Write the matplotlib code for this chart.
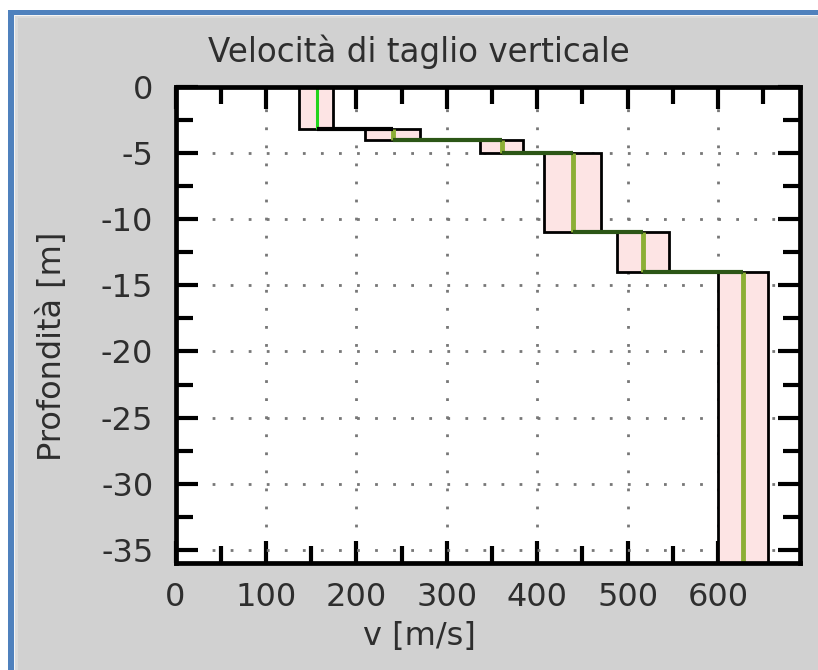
"""
    Shear-wave velocity profile (Vs vs depth) drawn as layered boxes.
"""

# ------ Environment Setup ------ #
import numpy as np                          # array manipulation
import matplotlib.pyplot as plt             # plotting
from matplotlib.patches import Rectangle    # window frame
from matplotlib.ticker import MultipleLocator

plt.rcParams["axes.unicode_minus"] = False


# ------ Data ------ #
# layer limits [m]
depth_top = [0.0, -3.2, -4.0, -5.0, -11.0, -14.0]
depth_bot = [-3.2, -4.0, -5.0, -11.0, -14.0, -36.0]

# velocity range and mean per layer [m/s]
v_min = [137, 210, 337, 408, 488, 600]
v_max = [174, 270, 384, 471, 546, 655]
v_mean = [157, 241, 361, 440, 517, 628]

x_ticks = [0, 100, 200, 300, 400, 500, 600]
y_ticks = [0, -5, -10, -15, -20, -25, -30, -35]

TITLE = "Velocità di taglio verticale"
XLABEL = "v [m/s]"
YLABEL = "Profondità [m]"


# ------ Figure ------ #
W, H = 818, 670
fig = plt.figure(figsize=(W / 100, H / 100), dpi=100, facecolor="white")


def px_rect(x0, y0, x1, y1, color):
    # rectangle given in pixel coordinates from the top-left corner
    fig.patches.append(Rectangle((x0 / W, 1 - y1 / H), (x1 - x0) / W, (y1 - y0) / H,
                                 transform=fig.transFigure, facecolor=color,
                                 edgecolor="none", zorder=-10))


# window frame
px_rect(8, 10, W, H, "#4f81bd")
px_rect(14, 15, W, H, "#f4f4f4")
px_rect(15, 16, W, H, "#dadada")
px_rect(18, 18, W, H, "#d1d1d1")

ax = fig.add_axes([175.5 / W, 1 - 563 / H, (799.5 - 175.5) / W, (563 - 87) / H])
ax.set_zorder(1)
ax.set_facecolor("white")

# layer boxes
v_min = np.array(v_min)
v_max = np.array(v_max)
top = np.array(depth_top)
bot = np.array(depth_bot)
ax.barh((top + bot) / 2, v_max - v_min, height=top - bot, left=v_min,
        color="#fde4e4", edgecolor="black", linewidth=2.0, zorder=2)

# mean velocity profile
mean_colors = ["#22d41c"] + ["#8caf35"] * (len(v_mean) - 1)
mean_widths = [2.2] + [3.5] * (len(v_mean) - 1)
ax.vlines(v_mean, depth_bot, depth_top, colors=mean_colors,
          linewidths=mean_widths, zorder=3)
step_colors = ["black"] + ["#2c5616"] * (len(v_mean) - 2)
ax.hlines(depth_bot[:-1], v_mean[:-1], v_mean[1:], colors=step_colors,
          linewidth=3.0, zorder=4)

# axes
ax.set_xlim(0, 690)
ax.set_ylim(-36, 0)
ax.set_xticks(x_ticks)
ax.set_yticks(y_ticks)
ax.xaxis.set_minor_locator(MultipleLocator(50))
ax.yaxis.set_minor_locator(MultipleLocator(2.5))
ax.tick_params(which="both", direction="in", top=True, right=True,
               width=3, color="black", labelsize=23, labelcolor="#2e2e2e")
ax.tick_params(which="major", length=16)
ax.tick_params(which="minor", length=12.5)
ax.tick_params(axis="x", pad=14)
ax.tick_params(axis="y", pad=16)
ax.grid(True, which="major", color="#777777", linestyle=(0, (1, 5.5)),
        linewidth=2.0, zorder=1)
ax.set_axisbelow(True)
for side in ax.spines.values():
    side.set_linewidth(3.4)
    side.set_zorder(5)

# labels
fig.text(419 / W, 1 - 62 / H, TITLE, ha="center", va="baseline",
         fontsize=23.5, color="#2e2e2e")
fig.text(419 / W, 1 - 636 / H, XLABEL, ha="center", va="center",
         fontsize=23, color="#2e2e2e")
fig.text(52 / W, 1 - 346 / H, YLABEL, ha="center", va="center",
         rotation=90, fontsize=23, color="#2e2e2e")

fig.savefig("out.png", dpi=100, facecolor=fig.get_facecolor())
